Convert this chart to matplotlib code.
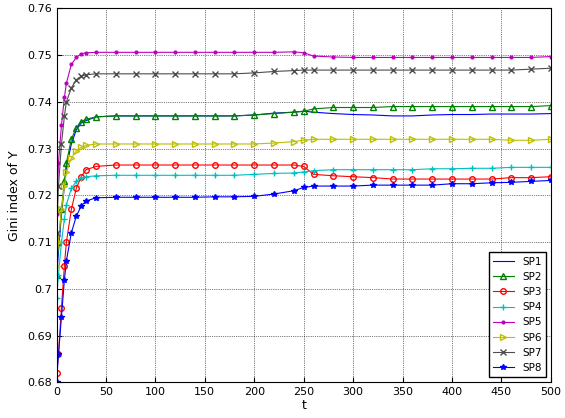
import numpy as np
import matplotlib.pyplot as plt

t = [0, 2, 5, 8, 10, 15, 20, 25, 30, 40, 60, 80, 100, 120, 140, 160, 180, 200,
     220, 240, 250, 260, 280, 300, 320, 340, 360, 380, 400, 420, 440, 460, 480, 500]

sp1 = [0.702, 0.708, 0.716, 0.722, 0.726, 0.731, 0.734, 0.7355, 0.736, 0.7368, 0.737, 0.737, 0.737, 0.737, 0.737, 0.737, 0.737, 0.7372,
       0.7376, 0.7378, 0.738, 0.7378, 0.7375, 0.7373, 0.7372, 0.737, 0.737, 0.7372, 0.7373, 0.7373, 0.7374, 0.7374, 0.7374, 0.7375]
sp2 = [0.703, 0.710, 0.717, 0.723, 0.727, 0.732, 0.7345, 0.7358, 0.7363, 0.7368, 0.737, 0.737, 0.737, 0.737, 0.737, 0.737, 0.737, 0.7372,
       0.7375, 0.7378, 0.738, 0.7385, 0.7388, 0.7388, 0.7388, 0.739, 0.739, 0.739, 0.739, 0.739, 0.739, 0.739, 0.739, 0.7392]
sp3 = [0.682, 0.686, 0.696, 0.705, 0.710, 0.717, 0.7215, 0.724, 0.7255, 0.7262, 0.7265, 0.7265, 0.7265, 0.7265, 0.7265, 0.7265, 0.7265, 0.7265,
       0.7265, 0.7265, 0.7262, 0.7245, 0.7242, 0.724, 0.7238, 0.7235, 0.7235, 0.7235, 0.7235, 0.7235, 0.7235, 0.7238, 0.7238, 0.724]
sp4 = [0.698, 0.703, 0.710, 0.715, 0.718, 0.7215, 0.723, 0.7237, 0.724, 0.7242, 0.7243, 0.7243, 0.7243, 0.7243, 0.7243, 0.7243, 0.7243, 0.7245,
       0.7247, 0.7248, 0.725, 0.7253, 0.7255, 0.7255, 0.7255, 0.7255, 0.7255, 0.7257, 0.7257, 0.7258, 0.7258, 0.726, 0.726, 0.726]
sp5 = [0.716, 0.727, 0.735, 0.741, 0.744, 0.748, 0.7495, 0.7503, 0.7505, 0.7506, 0.7506, 0.7506, 0.7506, 0.7506, 0.7506, 0.7506, 0.7506, 0.7506,
       0.7506, 0.7507, 0.7505, 0.7498, 0.7496, 0.7495, 0.7495, 0.7495, 0.7495, 0.7495, 0.7495, 0.7495, 0.7495, 0.7495, 0.7495, 0.7497]
sp6 = [0.705, 0.710, 0.717, 0.722, 0.725, 0.728, 0.7295, 0.7303, 0.7307, 0.731, 0.731, 0.731, 0.731, 0.731, 0.731, 0.731, 0.731, 0.731,
       0.7312, 0.7315, 0.7318, 0.732, 0.732, 0.732, 0.732, 0.732, 0.732, 0.732, 0.732, 0.732, 0.732, 0.7318, 0.7318, 0.732]
sp7 = [0.712, 0.722, 0.731, 0.737, 0.740, 0.743, 0.7447, 0.7455, 0.7458, 0.746, 0.746, 0.746, 0.746, 0.746, 0.746, 0.746, 0.746, 0.7462,
       0.7465, 0.7467, 0.7468, 0.7468, 0.7468, 0.7468, 0.7468, 0.7468, 0.7468, 0.7468, 0.7468, 0.7468, 0.7468, 0.7468, 0.747, 0.7472]
sp8 = [0.680, 0.686, 0.694, 0.702, 0.706, 0.712, 0.7155, 0.7178, 0.7188, 0.7195, 0.7196, 0.7196, 0.7196, 0.7196, 0.7196, 0.7197, 0.7197, 0.7198,
       0.7203, 0.721, 0.7217, 0.722, 0.722, 0.722, 0.7222, 0.7222, 0.7222, 0.7222, 0.7225, 0.7225, 0.7227, 0.7228, 0.723, 0.7232]

series = [
    ('SP1', sp1, (0, 0, 1), 'None'),
    ('SP2', sp2, (0, 0.5, 0), '^'),
    ('SP3', sp3, (1, 0, 0), 'o'),
    ('SP4', sp4, (0, 0.75, 0.75), '+'),
    ('SP5', sp5, (0.75, 0, 0.75), '.'),
    ('SP6', sp6, (0.75, 0.75, 0), '>'),
    ('SP7', sp7, (0.3, 0.3, 0.3), 'x'),
    ('SP8', sp8, (0, 0, 1), '*'),
]

fig, ax = plt.subplots(figsize=(5.65, 4.18), dpi=100)
fig.subplots_adjust(left=0.1, right=0.975, top=0.98, bottom=0.085)
for name, y, c, m in series:
    ax.plot(t, y, color=c, marker=m, markersize=4, markerfacecolor='none' if m in 'o^>' else c,
            linewidth=0.8, label=name)

ax.set_xticks(np.arange(0, 501, 50))
ax.set_yticks(np.arange(0.68, 0.7601, 0.01))
ax.set_yticklabels(['0.68', '0.69', '0.7', '0.71', '0.72', '0.73', '0.74', '0.75', '0.76'])
ax.tick_params(labelsize=8, direction='in')
ax.grid(True, linestyle=':', color='k', linewidth=0.5)
ax.set_xlabel('t', fontsize=9, labelpad=1)
ax.set_ylabel('Gini index of Y', fontsize=9)
ax.legend(loc='lower right', fontsize=7.5, fancybox=False, edgecolor='k', framealpha=1)
ax.set_xlim(0, 500)
ax.set_ylim(0.68, 0.76)
fig.savefig('out.png')
